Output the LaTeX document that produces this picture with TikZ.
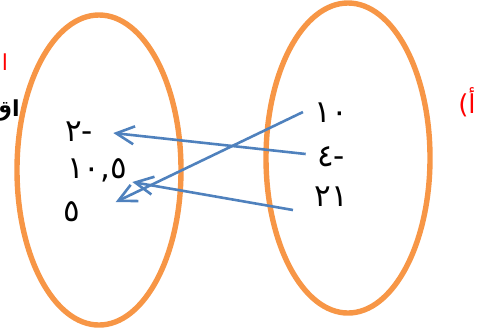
\documentclass[tikz,border=0pt]{standalone}
\usepackage{fontspec}
\usetikzlibrary{shapes.geometric, arrows.meta}
\TeXXeTstate=1
\newfontfamily\arabicfont[Script=Arabic]{DejaVu Sans}
\definecolor{setorange}{HTML}{F79646}
\definecolor{mapblue}{HTML}{4F81BD}

\begin{document}
\begin{tikzpicture}[x=0.5pt, y=-0.5pt,
  setring/.style={draw=setorange, line width=2.7pt, ellipse, minimum width=82pt, minimum height=155pt, inner sep=0pt},
  num/.style={font=\arabicfont\fontsize{15.5}{18}\selectfont, inner sep=0pt},
  maparrow/.style={draw=mapblue, line width=1.3pt, -{Straight Barb[length=9pt, width=9pt]}}]
  \useasboundingbox (0,0) rectangle (490,329);

  % the two sets
  \node[setring] (setA) at (99,170) {};
  \node[setring] (setB) at (348,158) {};

  % elements of the first set
  \node[num] (a2) at (79,132) {-٢};
  \node[num] (a105) at (97,170) {١٠,٥};
  \node[num] (a5) at (72,212) {٥};

  % elements of the second set
  \node[num] (b10) at (331,113) {١٠};
  \node[num] (b4) at (331,157) {-٤};
  \node[num] (b21) at (331,197) {٢١};

  % labels cut at the edges
  \node[red, font=\arabicfont\fontsize{11}{13}\selectfont, inner sep=0pt] (tagA) at (5,62) {ا};
  \node[font=\arabicfont\bfseries\fontsize{11}{13}\selectfont, inner sep=0pt, anchor=east] (tagB) at (20,110) {\beginR اق\endR};
  \node[red, font=\arabicfont\fontsize{13}{15}\selectfont, inner sep=0pt] (partA) at (467,102) {أ)};

  % mapping
  \draw[maparrow] ([shift={(-11,-3)}]b4.west) -- ([shift={(20,1)}]a2.east);
  \draw[maparrow] ([shift={(-11,-1)}]b10.west) -- ([shift={(35,-10)}]a5.east);
  \draw[maparrow] ([shift={(-21,13)}]b21.west) -- ([shift={(5,12)}]a105.east);
\end{tikzpicture}
\end{document}
